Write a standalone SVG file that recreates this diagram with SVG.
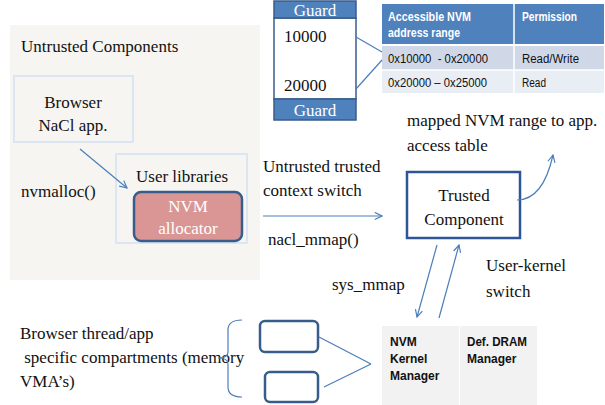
<svg xmlns="http://www.w3.org/2000/svg" width="605" height="405" viewBox="0 0 605 405">
<defs>
<marker id="ah" viewBox="0 0 10 10" refX="9" refY="5" markerWidth="9" markerHeight="9" markerUnits="userSpaceOnUse" orient="auto">
<path d="M1,1 L9,5 L1,9" fill="none" stroke="#4a7ebb" stroke-width="1.3"/>
</marker>
<style>
.serif{font-family:'Liberation Serif','Times New Roman',serif;font-size:17px;fill:#111}
.sans{font-family:'Liberation Sans',Arial,sans-serif;font-size:12.5px;fill:#111}
.hdr{font-family:'Liberation Sans',Arial,sans-serif;font-size:12.5px;font-weight:bold;fill:#fff}
.bold{font-family:'Liberation Sans',Arial,sans-serif;font-size:12px;font-weight:bold;fill:#111}
.wht{font-family:'Liberation Serif','Times New Roman',serif;font-size:17px;fill:#fff}
.conn{fill:none;stroke:#4a7ebb;stroke-width:1.2}
.light{fill:none;stroke:#dce6f2;stroke-width:2}
.dark{stroke:#385d8a;stroke-width:2.5}
</style>
</defs>

<g id="untrusted">
<rect x="10" y="25" width="250" height="255" fill="#f6f5f2"/>
<text class="serif" x="21" y="52">Untrusted Components</text>
<text class="serif" x="21" y="197">nvmalloc()</text>
</g>

<g id="browser-nacl">
<rect class="light" x="14" y="76" width="119" height="66"/>
<text class="serif" x="73" y="108" text-anchor="middle">Browser</text>
<text class="serif" x="73" y="131" text-anchor="middle">NaCl app.</text>
</g>

<g id="user-libraries">
<rect class="light" x="116" y="154" width="131" height="89"/>
<text class="serif" x="136" y="182">User libraries</text>
</g>

<g id="nvm-allocator">
<rect class="dark" x="134" y="192" width="108" height="49" rx="7" fill="#d99694"/>
<text class="wht" x="188" y="212" text-anchor="middle">NVM</text>
<text class="wht" x="188" y="234" text-anchor="middle">allocator</text>
</g>

<g id="guard-block">
<rect x="274" y="18" width="82" height="81" fill="#fff" stroke="#385d8a" stroke-width="1.5"/>
<rect x="274" y="1" width="82" height="17" fill="#4f81bd" stroke="#385d8a" stroke-width="1.5"/>
<rect x="274" y="99" width="82" height="21" fill="#4f81bd" stroke="#385d8a" stroke-width="1.5"/>
<text class="wht" x="315" y="16" text-anchor="middle">Guard</text>
<text class="wht" x="315" y="116" text-anchor="middle">Guard</text>
<text class="serif" x="284" y="42">10000</text>
<text class="serif" x="284" y="91">20000</text>
</g>

<g id="access-table">
<rect x="382" y="4" width="132" height="40" fill="#4f81bd"/>
<rect x="514" y="4" width="90" height="40" fill="#4f81bd"/>
<rect x="382" y="46" width="132" height="24" fill="#d0d8e8"/>
<rect x="514" y="46" width="90" height="24" fill="#d0d8e8"/>
<rect x="382" y="70" width="132" height="23" fill="#e9edf4"/>
<rect x="514" y="70" width="90" height="23" fill="#e9edf4"/>
<path d="M514,4 V93 M382,45 H604 M382,70 H604" stroke="#fff" stroke-width="1.5" fill="none"/>
<text class="hdr" x="388" y="21" textLength="83" lengthAdjust="spacingAndGlyphs">Accessible NVM</text>
<text class="hdr" x="388" y="37" textLength="72" lengthAdjust="spacingAndGlyphs">address range</text>
<text class="hdr" x="522" y="21" textLength="55" lengthAdjust="spacingAndGlyphs">Permission</text>
<text class="sans" x="388" y="63" xml:space="preserve" textLength="100" lengthAdjust="spacingAndGlyphs">0x10000  - 0x20000</text>
<text class="sans" x="522" y="63" textLength="57" lengthAdjust="spacingAndGlyphs">Read/Write</text>
<text class="sans" x="388" y="87" textLength="99" lengthAdjust="spacingAndGlyphs">0x20000 – 0x25000</text>
<text class="sans" x="522" y="87" textLength="24" lengthAdjust="spacingAndGlyphs">Read</text>
</g>

<g id="mapped-label">
<text class="serif" x="407" y="126">mapped NVM range to app.</text>
<text class="serif" x="407" y="151">access table</text>
</g>

<g id="trusted-component">
<rect x="407" y="172" width="113" height="66" fill="#fff" stroke="#2e5597" stroke-width="2.5"/>
<text class="serif" x="464" y="201" text-anchor="middle">Trusted</text>
<text class="serif" x="464" y="225" text-anchor="middle">Component</text>
</g>

<g id="labels">
<text class="serif" x="263" y="172">Untrusted trusted</text>
<text class="serif" x="263" y="196">context switch</text>
<text class="serif" x="268" y="245">nacl_mmap()</text>
<text class="serif" x="332" y="290">sys_mmap</text>
<text class="serif" x="486" y="271">User-kernel</text>
<text class="serif" x="486" y="297">switch</text>
<text class="serif" x="20" y="339">Browser thread/app</text>
<text class="serif" x="20" y="363" xml:space="preserve"> specific compartments (memory</text>
<text class="serif" x="20" y="387">VMA’s)</text>
</g>

<g id="compartment-1">
<rect x="260" y="321" width="58" height="31" rx="5" fill="#fff" stroke="#385d8a" stroke-width="2.5"/>
</g>
<g id="compartment-2">
<rect x="265" y="372" width="53" height="30" rx="5" fill="#fff" stroke="#385d8a" stroke-width="2.5"/>
</g>

<g id="kernel-table">
<rect x="382" y="326" width="77" height="79" fill="#f2f2f2"/>
<rect x="460" y="326" width="77" height="79" fill="#f2f2f2"/>
<text class="bold" x="390" y="346">NVM</text>
<text class="bold" x="390" y="363">Kernel</text>
<text class="bold" x="390" y="380">Manager</text>
<text class="bold" x="467" y="346" textLength="60" lengthAdjust="spacingAndGlyphs">Def. DRAM</text>
<text class="bold" x="467" y="363">Manager</text>
</g>

<g id="connectors">
<line class="conn" x1="80" y1="149" x2="127" y2="188" marker-end="url(#ah)"/>
<line class="conn" x1="356" y1="37" x2="382" y2="52"/>
<line class="conn" x1="356" y1="89" x2="382" y2="60"/>
<line class="conn" x1="263" y1="216" x2="382" y2="216" marker-end="url(#ah)"/>
<path class="conn" d="M517,200 Q543,200 553,155" marker-end="url(#ah)"/>
<line class="conn" x1="437" y1="245" x2="417" y2="317" marker-end="url(#ah)"/>
<line class="conn" x1="439" y1="318" x2="459" y2="245" marker-end="url(#ah)"/>
<line class="conn" x1="319" y1="337" x2="371" y2="364"/>
<line class="conn" x1="324" y1="387" x2="371" y2="364"/>
<path class="conn" d="M242,320 Q228,320 228,330 V352 Q228,358 218,358 Q228,358 228,364 V387 Q228,397 242,397"/>
</g>
</svg>
